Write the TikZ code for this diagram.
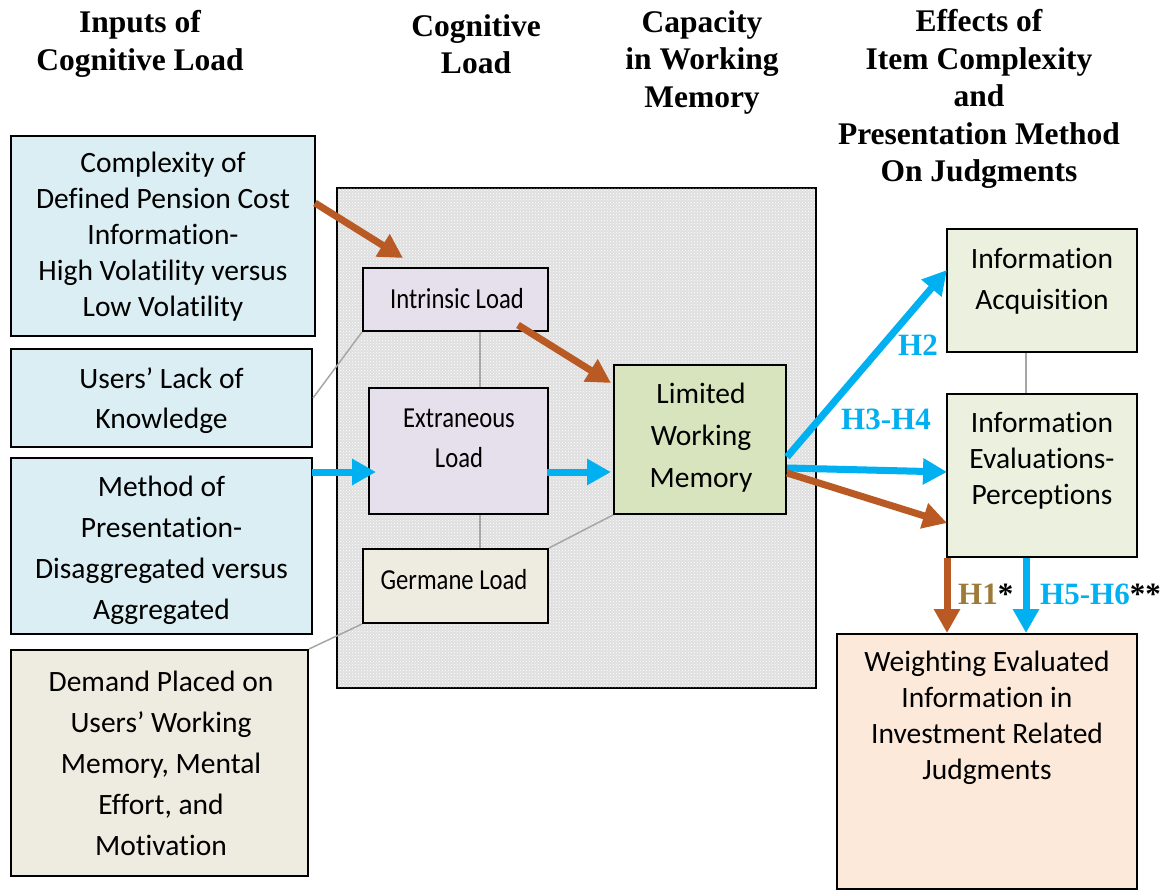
\documentclass[tikz,border=0pt]{standalone}
\usepackage{fontspec}
\setmainfont{Liberation Serif}
\newfontfamily\bodyfont[Ligatures=NoCommon]{Carlito}
\newfontfamily\condfont[FakeStretch=0.85,Ligatures=NoCommon]{Carlito}
\usetikzlibrary{arrows.meta,patterns}
\definecolor{ltblue}{HTML}{DAEEF3}
\definecolor{beige}{HTML}{EEECE1}
\definecolor{lav}{HTML}{E5E0EC}
\definecolor{lgreen}{HTML}{D7E4BD}
\definecolor{pgreen}{HTML}{EBF1DE}
\definecolor{peach}{HTML}{FDE9D9}
\definecolor{bigfill}{HTML}{DFDFDF}
\definecolor{ablue}{HTML}{00B0F0}
\definecolor{abrown}{HTML}{B95A25}
\definecolor{hgold}{HTML}{9E7A3A}
\definecolor{gline}{HTML}{A6A6A6}
\begin{document}
\begin{tikzpicture}[x=1pt,y=-1pt,
  box/.style={draw=black,line width=2pt,inner sep=0pt},
  txt/.style={font={\bodyfont\fontsize{29.5}{36}\selectfont},align=center,inner sep=0pt},
  ctxt/.style={font={\condfont\fontsize{29}{40}\selectfont},align=center,inner sep=0pt},
  head/.style={font={\bfseries\fontsize{31.5}{37.5}\selectfont},align=center,inner sep=0pt},
  hlab/.style={font={\bfseries\fontsize{31}{36}\selectfont},inner sep=0pt},
  thin/.style={draw=gline,line width=1.5pt},
  barrow/.style={draw=ablue,line width=7pt,-{Triangle[length=24pt,width=25pt]}},
  rarrow/.style={draw=abrown,line width=7pt,-{Triangle[length=24pt,width=25pt]}},
]
\useasboundingbox (0,0) rectangle (1170,891);

% headers
\node[head] (hd1) at (140,44) {Inputs of\\Cognitive Load};
\node[head] (hd2) at (476,44) {Cognitive\\Load};
\node[head] (hd3) at (702,62) {Capacity\\in Working\\Memory};
\node[head] (hd4) at (979,99) {Effects of\\Item Complexity\\and\\Presentation Method\\On Judgments};

% big shaded box
\node[draw=black,line width=2.5pt,fill=bigfill,minimum width=479pt,minimum height=500pt,inner sep=0pt] (big) at (576.5,438) {};
\fill[pattern=crosshatch dots,pattern color=white] ([shift={(2pt,2pt)}]big.south west) rectangle ([shift={(-2pt,-2pt)}]big.north east);

% left input boxes
\node[box,fill=ltblue,minimum width=304pt,minimum height=200pt] (cx) at (163,236) {};
\node[box,fill=ltblue,minimum width=301pt,minimum height=98pt] (ul) at (161.5,398) {};
\node[box,fill=ltblue,minimum width=301pt,minimum height=176pt] (mp) at (161.5,546) {};
\node[box,fill=beige,minimum width=297pt,minimum height=226pt] (dm) at (159.5,763) {};

% inner boxes
\node[box,fill=lav,minimum width=185pt,minimum height=63pt] (il) at (455.5,299.5) {};
\node[box,fill=lav,minimum width=179pt,minimum height=126pt] (el) at (458.5,451) {};
\node[box,fill=beige,minimum width=185pt,minimum height=74pt] (gl) at (455.5,586) {};
\node[box,fill=lgreen,minimum width=172pt,minimum height=149pt] (lwm) at (700,439.5) {};

% right boxes
\node[box,fill=pgreen,minimum width=190pt,minimum height=123pt] (ia) at (1042,290.5) {};
\node[box,fill=pgreen,minimum width=190pt,minimum height=163pt] (ie) at (1042,475.5) {};
\node[box,fill=peach,minimum width=300pt,minimum height=255pt] (we) at (987,761.5) {};

% texts
\node[txt] (tcx) at (163,237) {Complexity of\\Defined Pension Cost\\Information-\\High Volatility versus\\Low Volatility};
\node[txt,font={\bodyfont\fontsize{29.5}{40}\selectfont}] (tul) at (161.5,401) {Users’ Lack of\\Knowledge};
\node[txt,font={\bodyfont\fontsize{29.5}{41}\selectfont}] (tmp) at (161.5,550) {Method of\\Presentation-\\Disaggregated versus\\Aggregated};
\node[txt,font={\bodyfont\fontsize{29.5}{41}\selectfont}] (tdm) at (161,763) {Demand Placed on\\Users’ Working\\Memory, Mental\\Effort, and\\Motivation};
\node[ctxt] (til) at (457,299) {Intrinsic Load};
\node[ctxt] (tel) at (459,438) {Extraneous\\Load};
\node[ctxt] (tgl) at (454,580) {Germane Load};
\node[txt,font={\bodyfont\fontsize{29.5}{42}\selectfont}] (tlwm) at (701,438) {Limited\\Working\\Memory};
\node[txt,font={\bodyfont\fontsize{29.5}{41}\selectfont}] (tia) at (1042,281) {Information\\Acquisition};
\node[txt] (tie) at (1042,461) {Information\\Evaluations-\\Perceptions};
\node[txt] (twe) at (987,718) {Weighting Evaluated\\Information in\\Investment Related\\Judgments};

% thin gray connectors
\coordinate (gx) at (480,0);
\coordinate (gx2) at (1026,0);
\draw[thin] (il.south west) -- (ul.east);
\draw[thin] (il.south -| gx) -- (el.north -| gx);
\draw[thin] (el.south -| gx) -- (gl.north -| gx);
\draw[thin] (gl.north east) -- (lwm.south west);
\draw[thin] (gl.south west) -- (dm.north east);
\draw[thin] (ia.south -| gx2) -- (ie.north -| gx2);

% arrow end points
\coordinate (a1s) at (315,203);
\coordinate (a1t) at (403,258);
\coordinate (a2s) at (518,325);
\coordinate (a2t) at (611,383);
\coordinate (b1s) at (312,472);
\coordinate (b1t) at (376,472);
\coordinate (b2s) at (547,472);
\coordinate (b2t) at (611,472);
\coordinate (b3s) at (787,457);
\coordinate (b3t) at (947,270);
\coordinate (b4s) at (787,468);
\coordinate (b4t) at (947,472);
\coordinate (a3s) at (787,473);
\coordinate (a3t) at (947,523);
\coordinate (a4x) at (947,0);
\coordinate (b5x) at (1026,0);

\draw[rarrow] (a1s) -- (a1t);
\draw[rarrow] (a2s) -- (a2t);
\draw[barrow] (b1s) -- (b1t);
\draw[barrow] (b2s) -- (b2t);
\draw[barrow] (b3s) -- (b3t);
\draw[barrow] (b4s) -- (b4t);
\draw[rarrow] (a3s) -- (a3t);
\draw[rarrow] (ie.south -| a4x) -- (we.north -| a4x);
\draw[barrow] (ie.south -| b5x) -- (we.north -| b5x);

% hypothesis labels
\node[hlab,text=ablue] (lh2) at (918,345) {H2};
\node[hlab,text=ablue] (lh34) at (886,419) {H3-H4};
\node[hlab,anchor=west] (lh1) at (958,594) {\textcolor{hgold}{H1}*};
\node[hlab,anchor=west] (lh56) at (1040,594) {\textcolor{ablue}{H5-H6}**};
\end{tikzpicture}
\end{document}
